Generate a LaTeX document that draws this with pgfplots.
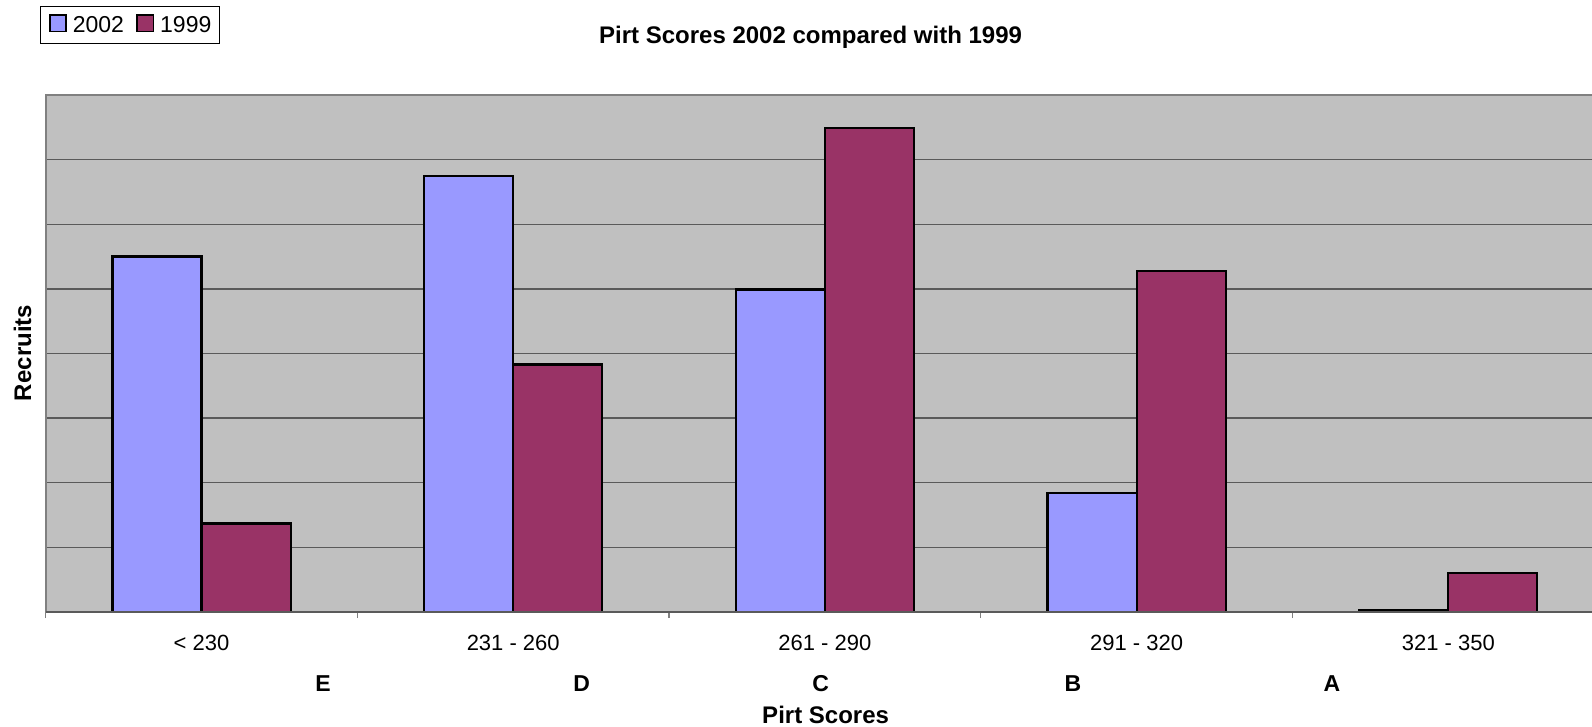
\documentclass[border=0pt]{standalone}
\usepackage{pgfplots}
\pgfplotsset{compat=1.18}
\usepackage{fontspec}
\setmainfont{Liberation Sans}
\definecolor{barblue}{HTML}{9999FF}
\definecolor{barmaroon}{HTML}{993366}
\definecolor{plotbg}{HTML}{C0C0C0}
\definecolor{gridc}{HTML}{5A5A5A}
\definecolor{framec}{HTML}{808080}
\begin{document}
\begin{tikzpicture}
\useasboundingbox (0,0) rectangle (1592pt,726pt);
\begin{axis}[
  at={(45.7pt,114pt)}, anchor=south west,
  scale only axis, width=1546.3pt, height=517pt,
  xmin=-0.5, xmax=4.461, ymin=0, ymax=8,
  clip=false,
  axis line style={draw=none},
  axis background/.style={fill=plotbg},
  ytick={1,...,7}, yticklabels={}, ymajorgrids,
  ytick style={draw=none},
  grid style={draw=gridc, line width=1.3pt},
  tick pos=left,
  xtick={-0.5,0.5,1.5,2.5,3.5}, xticklabels={},
  xtick align=outside,
  major tick length=6pt,
  xtick style={draw=framec, line width=1.3pt},
  extra x ticks={0,1,2,3,4},
  extra x tick labels={{< 230},{231 - 260},{261 - 290},{291 - 320},{321 - 350}},
  extra x tick style={major tick length=0pt,
    tick label style={anchor=base, yshift=-38.7pt, font=\fontsize{22}{26}\selectfont}},
  legend style={at={(axis description cs:-0.0037,1.1721)}, anchor=north west,
    draw=black, line width=1.3pt, font=\fontsize{23}{27}\selectfont,
    inner xsep=7pt, inner ysep=7.5pt,
    nodes={inner xsep=1pt, inner ysep=2pt},
    /tikz/every even column/.append style={column sep=10pt}},
  legend columns=2,
  legend image code/.code={\path (-1pt,0pt) (21pt,0pt);
    \draw[#1, draw=black, line width=1.8pt] (0pt,-6.2pt) rectangle (16.4pt,10.2pt);},
]
\addplot[ybar, fill=barblue, draw=black, line width=2.2pt, bar width=0.2857, bar shift=-0.14286]
  coordinates {(0,5.50) (1,6.75) (2,4.99) (3,1.84) (4,0.035)};
\addlegendentry{2002}
\addplot[ybar, fill=barmaroon, draw=black, line width=2.2pt, bar width=0.2857, bar shift=0.14286]
  coordinates {(0,1.37) (1,3.83) (2,7.49) (3,5.28) (4,0.60)};
\addlegendentry{1999}
\draw[framec, line width=1.7pt] (rel axis cs:0,0) -- (rel axis cs:0,1) -- (rel axis cs:1,1);
\draw[gridc, line width=1.3pt] (rel axis cs:0,0) -- (rel axis cs:1,0);
\end{axis}
\node[anchor=base, font=\fontsize{24}{28}\selectfont\bfseries] at (810.6pt,682pt) {Pirt Scores 2002 compared with 1999};
\node[rotate=90, anchor=center, font=\fontsize{24}{28}\selectfont\bfseries] at (22.5pt,373pt) {Recruits};
\node[anchor=base, font=\fontsize{24}{28}\selectfont\bfseries] at (825.6pt,3pt) {Pirt Scores};
\foreach \xx/\lab in {323/E,581.7/D,820.7/C,1073/B,1332/A}
  \node[anchor=base, font=\fontsize{23}{27}\selectfont\bfseries] at (\xx pt,35pt) {\lab};
\end{tikzpicture}
\end{document}
